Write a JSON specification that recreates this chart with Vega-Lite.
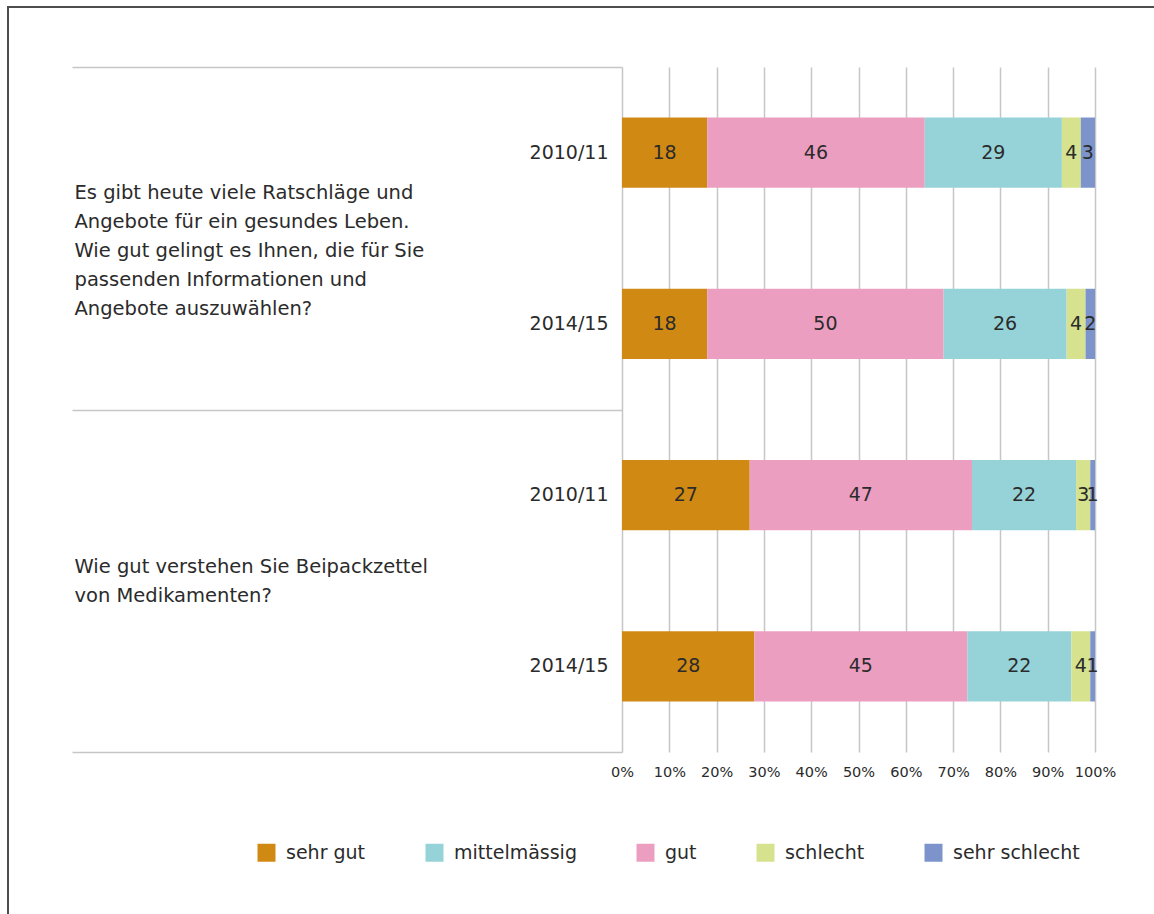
{
  "$schema": "https://vega.github.io/schema/vega-lite/v6.json",
  "width": 1150,
  "height": 910,
  "autosize": {"type": "none"},
  "padding": {"left": 8, "top": 7, "right": 0, "bottom": 0},
  "background": "white",
  "config": {
    "font": "DejaVu Sans",
    "view": {"stroke": "#4d4d4d", "strokeWidth": 2}
  },
  "layer": [
    {
      "data": {
        "values": [
          {"q": 1, "year": "2010/11", "cat": "sehr gut", "pct": 18},
          {"q": 1, "year": "2010/11", "cat": "gut", "pct": 46},
          {"q": 1, "year": "2010/11", "cat": "mittelmässig", "pct": 29},
          {"q": 1, "year": "2010/11", "cat": "schlecht", "pct": 4},
          {"q": 1, "year": "2010/11", "cat": "sehr schlecht", "pct": 3},
          {"q": 1, "year": "2014/15", "cat": "sehr gut", "pct": 18},
          {"q": 1, "year": "2014/15", "cat": "gut", "pct": 50},
          {"q": 1, "year": "2014/15", "cat": "mittelmässig", "pct": 26},
          {"q": 1, "year": "2014/15", "cat": "schlecht", "pct": 4},
          {"q": 1, "year": "2014/15", "cat": "sehr schlecht", "pct": 2},
          {"q": 2, "year": "2010/11", "cat": "sehr gut", "pct": 27},
          {"q": 2, "year": "2010/11", "cat": "gut", "pct": 47},
          {"q": 2, "year": "2010/11", "cat": "mittelmässig", "pct": 22},
          {"q": 2, "year": "2010/11", "cat": "schlecht", "pct": 3},
          {"q": 2, "year": "2010/11", "cat": "sehr schlecht", "pct": 1},
          {"q": 2, "year": "2014/15", "cat": "sehr gut", "pct": 28},
          {"q": 2, "year": "2014/15", "cat": "gut", "pct": 45},
          {"q": 2, "year": "2014/15", "cat": "mittelmässig", "pct": 22},
          {"q": 2, "year": "2014/15", "cat": "schlecht", "pct": 4},
          {"q": 2, "year": "2014/15", "cat": "sehr schlecht", "pct": 1}
        ]
      },
      "transform": [
        {"calculate": "datum.q + '|' + datum.year", "as": "key"},
        {"calculate": "indexof(['sehr gut','gut','mittelmässig','schlecht','sehr schlecht'], datum.cat)", "as": "o"},
        {"stack": "pct", "groupby": ["key"], "sort": [{"field": "o", "order": "ascending"}], "as": ["x0", "x1"]},
        {"calculate": "(datum.x0 + datum.x1) / 2", "as": "mid"}
      ],
      "layer": [
        {
          "mark": {"type": "bar"},
          "encoding": {
            "y": {
              "field": "key", "type": "nominal", "sort": null,
              "scale": {"range": [60, 745], "paddingInner": 0.59, "paddingOuter": 0.295},
              "axis": {
                "orient": "left", "title": null, "domain": false, "ticks": false, "tickSize": 0,
                "labelPadding": 14, "offset": -614, "labelFontSize": 19, "labelColor": "#2b2b2b",
                "labelExpr": "split(datum.value, '|')[1]", "grid": false, "labelLimit": 0
              }
            },
            "x": {
              "field": "x0", "type": "quantitative",
              "scale": {"domain": [0, 100], "range": [614, 1087], "nice": false, "zero": true},
              "axis": {
                "orient": "top", "offset": -745, "title": null, "domain": false, "ticks": false, "tickSize": 0,
                "grid": true, "gridColor": "#c6c6c6", "gridWidth": 1.5,
                "values": [0, 10, 20, 30, 40, 50, 60, 70, 80, 90, 100],
                "labelExpr": "datum.value + '%'", "labelPadding": -20, "labelBaseline": "middle",
                "labelFontSize": 14.5, "labelColor": "#2b2b2b", "labelFlush": false, "labelOverlap": false
              }
            },
            "x2": {"field": "x1"},
            "color": {
              "field": "cat", "type": "nominal",
              "scale": {
                "domain": ["sehr gut", "mittelmässig", "gut", "schlecht", "sehr schlecht"],
                "range": ["#d08a14", "#96d3d9", "#ec9ec0", "#d6e28e", "#7c94cb"]
              },
              "legend": {
                "orient": "none", "legendX": 249, "legendY": 836, "direction": "horizontal",
                "title": null, "symbolType": "square", "symbolSize": 324, "symbolStrokeWidth": 0,
                "symbolOpacity": 1, "labelFontSize": 19, "labelColor": "#2b2b2b", "labelOffset": 10,
                "columnPadding": 59, "padding": 0, "labelLimit": 0
              }
            }
          }
        },
        {
          "mark": {"type": "text", "fontSize": 19, "color": "#2b2b2b", "baseline": "middle"},
          "encoding": {
            "y": {"field": "key", "type": "nominal", "sort": null, "axis": {"title": null}},
            "x": {"field": "mid", "type": "quantitative", "axis": {"title": null}},
            "text": {"field": "pct", "type": "quantitative"}
          }
        }
      ]
    },
    {
      "data": {
        "values": [
          {"question": "Es gibt heute viele Ratschläge und\nAngebote für ein gesundes Leben.\nWie gut gelingt es Ihnen, die für Sie\npassenden Informationen und\nAngebote auszuwählen?"},
          {"question": "Wie gut verstehen Sie Beipackzettel\nvon Medikamenten?"}
        ]
      },
      "mark": {"type": "tick", "opacity": 0},
      "encoding": {
        "y": {
          "field": "question", "type": "nominal", "sort": null,
          "scale": {"range": [60, 745], "paddingInner": 0, "paddingOuter": 0},
          "axis": {
            "orient": "left", "title": null, "domain": false, "ticks": true, "tickSize": 550,
            "tickBand": "extent", "tickColor": "#c6c6c6", "tickWidth": 1.5,
            "labelAlign": "left", "labelPadding": -2, "offset": -614, "labelFontSize": 19.5,
            "labelLineHeight": 29, "labelColor": "#2b2b2b", "labelBaseline": "middle",
            "labelOffset": {"condition": {"test": "isValid(datum.value) && length(split(datum.value, '\\n')) > 2", "value": -46}, "value": -14},
            "labelExpr": "isValid(datum.value) ? split(datum.value, '\\n') : ''", "labelLimit": 0, "grid": false
          }
        }
      }
    }
  ],
  "resolve": {"scale": {"y": "independent"}, "axis": {"y": "independent"}}
}
